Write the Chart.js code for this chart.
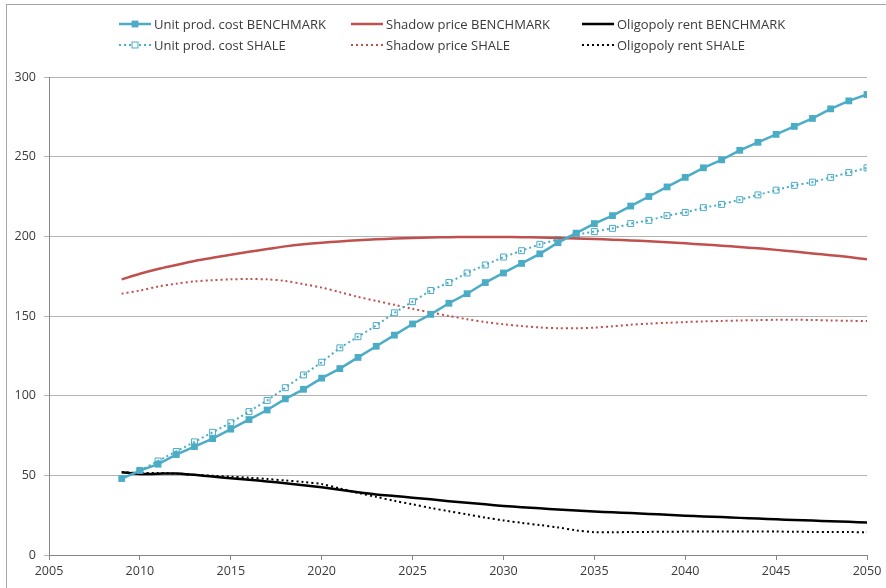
<!DOCTYPE html>
<html>
<head>
<meta charset="utf-8">
<script src="https://cdn.jsdelivr.net/npm/chart.js@4.4.0/dist/chart.umd.min.js"></script>
<style>
  html, body { margin: 0; padding: 0; background: #fff; }
  #wrap { width: 886px; height: 588px; }
</style>
</head>
<body>
<div id="wrap"><canvas id="chart" width="886" height="588"></canvas></div>
<script>
// years 2009..2050
const years = [2009, 2010, 2011, 2012, 2013, 2014, 2015, 2016, 2017, 2018,
  2019, 2020, 2021, 2022, 2023, 2024, 2025, 2026, 2027, 2028,
  2029, 2030, 2031, 2032, 2033, 2034, 2035, 2036, 2037, 2038,
  2039, 2040, 2041, 2042, 2043, 2044, 2045, 2046, 2047, 2048,
  2049, 2050];

const unitBench = [48, 53, 57, 63, 68, 73, 79, 85, 91, 98,
  104, 111, 117, 124, 131, 138, 145, 151, 158, 164,
  171, 177, 183, 189, 196, 202, 208, 213, 219, 225,
  231, 237, 243, 248, 254, 259, 264, 269, 274, 280,
  285, 289];
const shadowBench = [173, 176.5, 179.5, 182, 184.5, 186.5, 188.5, 190.3, 192, 193.7,
  195, 196, 196.8, 197.5, 198.1, 198.6, 199, 199.3, 199.5, 199.6,
  199.6, 199.6, 199.5, 199.3, 199, 198.7, 198.3, 197.9, 197.4, 196.9,
  196.3, 195.6, 194.9, 194.1, 193.3, 192.5, 191.5, 190.5, 189.3, 188.2,
  187, 185.6];
const oligBench = [52, 50.8, 51, 51.2, 50.3, 49.2, 48.2, 47.2, 46.2, 45,
  43.8, 42.5, 41, 39.4, 38, 37, 36, 35, 33.8, 32.8,
  31.8, 30.8, 30, 29.3, 28.6, 28, 27.3, 26.8, 26.3, 25.8,
  25.2, 24.7, 24.2, 23.8, 23.3, 22.9, 22.4, 22, 21.6, 21.2,
  20.8, 20.4];
const unitShale = [null, 53, 59, 65, 71, 77, 83, 90, 97, 105,
  113, 121, 130, 137, 144, 152, 159, 166, 171, 177,
  182, 187, 191, 195, 198, 201, 203, 205, 208, 210,
  213, 215, 218, 220, 223, 226, 229, 232, 234, 237,
  240, 243];
const shadowShale = [164, 166, 168.5, 170.3, 171.7, 172.5, 173, 173.2, 173, 172,
  170, 167.8, 165, 162, 159.5, 157, 154.5, 152.3, 150, 148,
  146.2, 144.8, 143.7, 142.8, 142.3, 142.3, 142.7, 143.5, 144.5, 145.2,
  145.7, 146.2, 146.6, 146.9, 147.2, 147.4, 147.6, 147.6, 147.5, 147.2,
  147, 146.8];
const oligShale = [52, 51.5, 51.5, 51, 50.3, 49.7, 49.2, 48.5, 47.7, 46.8,
  45.8, 44.5, 41.8, 39, 36.5, 34, 31.8, 29.5, 27.5, 25.5,
  23.5, 21.7, 20.2, 18.8, 17.3, 15.5, 14.3, 14.3, 14.4, 14.5,
  14.6, 14.7, 14.8, 14.8, 14.8, 14.7, 14.7, 14.6, 14.5, 14.5,
  14.4, 14.3];

const xTicks = [2005, 2010, 2015, 2020, 2025, 2030, 2035, 2040, 2045, 2050];
const yTicks = [0, 50, 100, 150, 200, 250, 300];

const TEAL = '#4BACC6';
const RED = '#C0504D';
const FONT = '"Open Sans", "Noto Sans", sans-serif';
const TEXT = '#3a3a3a';

function pts(values) {
  return years.map((y, i) => ({ x: y, y: values[i] }));
}

// legend drawn by hand: 3 columns x 2 rows
const legendPlugin = {
  id: 'xlLegend',
  afterDraw(chart) {
    const ctx = chart.ctx;
    const cols = [119, 351, 582];
    const rows = [24, 45];
    ctx.save();
    ctx.font = '13px ' + FONT;
    ctx.textBaseline = 'middle';
    chart.data.datasets.forEach((ds, i) => {
      const x = cols[i % 3];
      const y = rows[Math.floor(i / 3)];
      ctx.beginPath();
      ctx.strokeStyle = ds.borderColor;
      ctx.lineWidth = ds.borderWidth;
      ctx.setLineDash(ds.borderDash || []);
      ctx.moveTo(x, y);
      ctx.lineTo(x + 32, y);
      ctx.stroke();
      ctx.setLineDash([]);
      if (ds.pointRadius > 0) {
        const s = Math.SQRT1_2 * ds.pointRadius;
        if (ds.pointBackgroundColor !== 'transparent') {
          ctx.fillStyle = ds.pointBackgroundColor;
          ctx.fillRect(x + 16 - s, y - s, 2 * s, 2 * s);
        } else {
          ctx.fillStyle = '#fff';
          ctx.strokeStyle = ds.pointBorderColor;
          ctx.lineWidth = ds.pointBorderWidth;
          ctx.fillRect(x + 16 - s, y - s, 2 * s, 2 * s);
          ctx.strokeRect(x + 16 - s, y - s, 2 * s, 2 * s);
        }
      }
      ctx.fillStyle = TEXT;
      ctx.fillText(ds.label, x + 35, y + 1);
    });
    // outer frame
    ctx.strokeStyle = '#a6a6a6';
    ctx.lineWidth = 1;
    ctx.strokeRect(6.5, 4.5, 900, 600);
    ctx.restore();
  }
};

function noPad(scale) {
  scale.paddingLeft = 0;
  scale.paddingRight = 0;
  scale.paddingTop = 0;
  scale.paddingBottom = 0;
}

new Chart(document.getElementById('chart'), {
  type: 'line',
  data: {
    datasets: [
      {
        label: 'Unit prod. cost BENCHMARK', data: pts(unitBench),
        borderColor: TEAL, borderWidth: 2.5, tension: 0,
        pointStyle: 'rect', pointRadius: 4.8, pointBackgroundColor: TEAL,
        pointBorderColor: TEAL, pointBorderWidth: 0
      },
      {
        label: 'Shadow price BENCHMARK', data: pts(shadowBench),
        borderColor: RED, borderWidth: 2.5, tension: 0.3, pointRadius: 0
      },
      {
        label: 'Oligopoly rent BENCHMARK', data: pts(oligBench),
        borderColor: '#000', borderWidth: 2.5, tension: 0.3, pointRadius: 0
      },
      {
        label: 'Unit prod. cost SHALE', data: pts(unitShale),
        borderColor: TEAL, borderWidth: 2, borderDash: [2, 3], tension: 0,
        pointStyle: 'rect', pointRadius: 4.2, pointBackgroundColor: 'transparent',
        pointBorderColor: TEAL, pointBorderWidth: 1
      },
      {
        label: 'Shadow price SHALE', data: pts(shadowShale),
        borderColor: RED, borderWidth: 2, borderDash: [2, 3], tension: 0.3, pointRadius: 0
      },
      {
        label: 'Oligopoly rent SHALE', data: pts(oligShale),
        borderColor: '#000', borderWidth: 2, borderDash: [2, 3], tension: 0.3, pointRadius: 0
      }
    ]
  },
  options: {
    responsive: false,
    animation: false,
    spanGaps: true,
    layout: { padding: { top: 77, left: 0, right: 19, bottom: 0 } },
    plugins: {
      legend: { display: false },
      tooltip: { enabled: false }
    },
    scales: {
      x: {
        type: 'linear', min: 2005, max: 2050,
        afterBuildTicks: s => { s.ticks = xTicks.map(v => ({ value: v })); },
        afterFit: s => { s.height = 33; noPad(s); },
        grid: { drawOnChartArea: false, drawTicks: true, tickLength: 5, color: '#868686' },
        border: { display: true, color: '#868686', width: 1 },
        ticks: { padding: 4, color: TEXT, font: { family: FONT, size: 12.5 }, maxRotation: 0,
          callback: v => String(v) }
      },
      y: {
        min: 0, max: 300,
        afterBuildTicks: s => { s.ticks = yTicks.map(v => ({ value: v })); },
        afterFit: s => { s.width = 49; noPad(s); },
        grid: { color: '#b3b3b3', tickLength: 5, drawTicks: true },
        border: { display: true, color: '#868686', width: 1 },
        ticks: { padding: 8, color: TEXT, font: { family: FONT, size: 12.5 } }
      }
    }
  },
  plugins: [legendPlugin]
});
</script>
</body>
</html>
